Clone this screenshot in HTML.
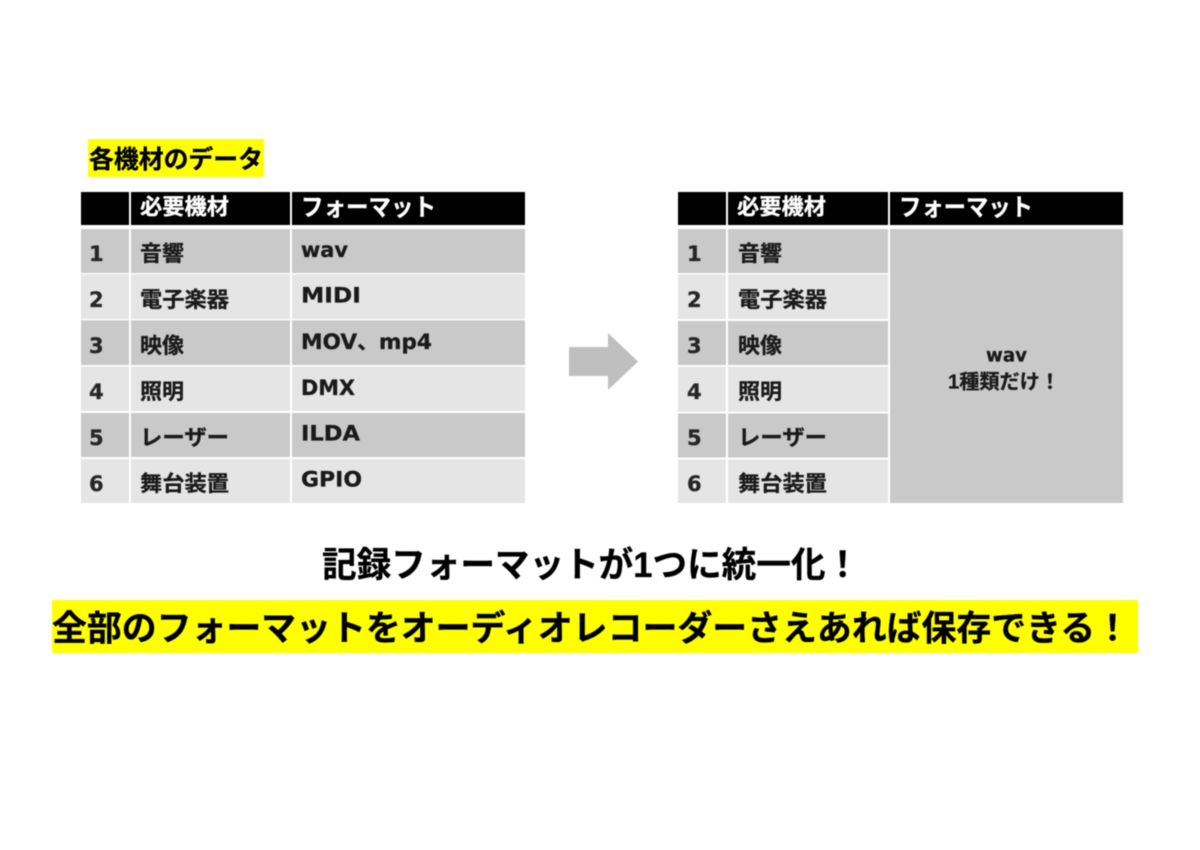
<!DOCTYPE html>
<html lang="ja"><head><meta charset="utf-8"><style>
html,body{margin:0;padding:0;background:#fff;width:1200px;height:850px;overflow:hidden}
svg{display:block;filter:blur(0.4px)}
text{font-family:"Liberation Sans","Noto Sans CJK JP",sans-serif;font-weight:700;fill:#1a1a1a;stroke:#1a1a1a;stroke-width:.3px}
.h{fill:#fff;stroke:#fff;font-size:22px}
.k{fill:#fff;stroke:#fff;font-size:24px}
.c{font-size:21.5px}
.n{font-size:21px;font-family:"DejaVu Sans",sans-serif;fill:#262626;stroke:#262626}
.f{font-size:21px;font-family:"DejaVu Sans","Noto Sans CJK JP",sans-serif}
.b{fill:#000;stroke:#000}
</style></head><body>
<svg width="1200" height="850" viewBox="0 0 1200 850" xmlns="http://www.w3.org/2000/svg">
<rect width="1200" height="850" fill="#fff"/>
<rect x="88" y="139" width="176" height="38" fill="#ffff00"/>
<text x="89" y="168" font-size="25" class="b" textLength="174" lengthAdjust="spacingAndGlyphs">各機材のデータ</text>

<!-- Left table -->
<g>
<rect x="81" y="192" width="48" height="33" fill="#000"/><rect x="131" y="192" width="159" height="33" fill="#000"/><rect x="292" y="192" width="233" height="33" fill="#000"/>
<rect x="81" y="229" width="48" height="44" fill="#c9c9c9"/><rect x="131" y="229" width="159" height="44" fill="#c9c9c9"/><rect x="292" y="229" width="233" height="44" fill="#c9c9c9"/>
<rect x="81" y="274.3" width="48" height="44.7" fill="#e5e5e5"/><rect x="131" y="274.3" width="159" height="44.7" fill="#e5e5e5"/><rect x="292" y="274.3" width="233" height="44.7" fill="#e5e5e5"/>
<rect x="81" y="320.3" width="48" height="44.7" fill="#c9c9c9"/><rect x="131" y="320.3" width="159" height="44.7" fill="#c9c9c9"/><rect x="292" y="320.3" width="233" height="44.7" fill="#c9c9c9"/>
<rect x="81" y="366.6" width="48" height="44.4" fill="#e5e5e5"/><rect x="131" y="366.6" width="159" height="44.4" fill="#e5e5e5"/><rect x="292" y="366.6" width="233" height="44.4" fill="#e5e5e5"/>
<rect x="81" y="413" width="48" height="44" fill="#c9c9c9"/><rect x="131" y="413" width="159" height="44" fill="#c9c9c9"/><rect x="292" y="413" width="233" height="44" fill="#c9c9c9"/>
<rect x="81" y="459" width="48" height="44" fill="#e5e5e5"/><rect x="131" y="459" width="159" height="44" fill="#e5e5e5"/><rect x="292" y="459" width="233" height="44" fill="#e5e5e5"/>
<text x="140" y="214.5" class="h" textLength="89" lengthAdjust="spacingAndGlyphs">必要機材</text>
<text x="301" y="215.5" class="k" textLength="135" lengthAdjust="spacingAndGlyphs">フォーマット</text>
<text x="89" y="261" class="n">1</text><text x="89" y="307" class="n">2</text><text x="89" y="353" class="n">3</text><text x="89" y="399" class="n">4</text><text x="89" y="445" class="n">5</text><text x="89" y="491" class="n">6</text>
<text x="140" y="261" class="c" textLength="44" lengthAdjust="spacingAndGlyphs">音響</text>
<text x="140" y="307" class="c" textLength="89" lengthAdjust="spacingAndGlyphs">電子楽器</text>
<text x="140" y="353" class="c" textLength="44" lengthAdjust="spacingAndGlyphs">映像</text>
<text x="140" y="399" class="c" textLength="44" lengthAdjust="spacingAndGlyphs">照明</text>
<text x="140" y="445" class="c" textLength="89" lengthAdjust="spacingAndGlyphs">レーザー</text>
<text x="140" y="491" class="c" textLength="89" lengthAdjust="spacingAndGlyphs">舞台装置</text>
<text x="301" y="257" class="f" textLength="47" lengthAdjust="spacingAndGlyphs">wav</text>
<text x="301" y="302.5" class="f" textLength="60" lengthAdjust="spacingAndGlyphs">MIDI</text>
<text x="301" y="349" class="f" textLength="131" lengthAdjust="spacingAndGlyphs">MOV、mp4</text>
<text x="301" y="395" class="f" textLength="54" lengthAdjust="spacingAndGlyphs">DMX</text>
<text x="301" y="440.7" class="f" textLength="59" lengthAdjust="spacingAndGlyphs">ILDA</text>
<text x="301" y="486.7" class="f" textLength="61" lengthAdjust="spacingAndGlyphs">GPIO</text>
</g>

<!-- Arrow -->
<polygon points="569,347 608,347 608,333 638,361.5 608,390 608,376 569,376" fill="#bfbfbf"/>

<!-- Right table -->
<g>
<rect x="678" y="192" width="48" height="33" fill="#000"/><rect x="728" y="192" width="160" height="33" fill="#000"/><rect x="890" y="192" width="233" height="33" fill="#000"/>
<rect x="678" y="229" width="48" height="44" fill="#c9c9c9"/><rect x="728" y="229" width="160" height="44" fill="#c9c9c9"/>
<rect x="678" y="274.5" width="48" height="44.5" fill="#e5e5e5"/><rect x="728" y="274.5" width="160" height="44.5" fill="#e5e5e5"/>
<rect x="678" y="321" width="48" height="44" fill="#c9c9c9"/><rect x="728" y="321" width="160" height="44" fill="#c9c9c9"/>
<rect x="678" y="366.7" width="48" height="45" fill="#e5e5e5"/><rect x="728" y="366.7" width="160" height="45" fill="#e5e5e5"/>
<rect x="678" y="413.5" width="48" height="44" fill="#c9c9c9"/><rect x="728" y="413.5" width="160" height="44" fill="#c9c9c9"/>
<rect x="678" y="459.5" width="48" height="43.5" fill="#e5e5e5"/><rect x="728" y="459.5" width="160" height="43.5" fill="#e5e5e5"/>
<rect x="890" y="229" width="233" height="274" fill="#c9c9c9"/>
<text x="737" y="214.5" class="h" textLength="89" lengthAdjust="spacingAndGlyphs">必要機材</text>
<text x="899" y="215.5" class="k" textLength="134" lengthAdjust="spacingAndGlyphs">フォーマット</text>
<text x="687" y="261" class="n">1</text><text x="687" y="307" class="n">2</text><text x="687" y="353" class="n">3</text><text x="687" y="399" class="n">4</text><text x="687" y="445" class="n">5</text><text x="687" y="491" class="n">6</text>
<text x="738" y="261" class="c" textLength="44" lengthAdjust="spacingAndGlyphs">音響</text>
<text x="738" y="307" class="c" textLength="89" lengthAdjust="spacingAndGlyphs">電子楽器</text>
<text x="738" y="353" class="c" textLength="44" lengthAdjust="spacingAndGlyphs">映像</text>
<text x="738" y="399" class="c" textLength="44" lengthAdjust="spacingAndGlyphs">照明</text>
<text x="738" y="445" class="c" textLength="89" lengthAdjust="spacingAndGlyphs">レーザー</text>
<text x="738" y="491" class="c" textLength="89" lengthAdjust="spacingAndGlyphs">舞台装置</text>
<text x="986" y="361.7" font-size="19" style="font-family:'DejaVu Sans',sans-serif" textLength="41" lengthAdjust="spacingAndGlyphs">wav</text>
<text x="948" y="388.5" font-size="20" textLength="112" lengthAdjust="spacingAndGlyphs">1種類だけ！</text>
</g>

<!-- Bottom -->
<text x="322" y="577" font-size="35" class="b" textLength="538" lengthAdjust="spacingAndGlyphs">記録フォーマットが1つに統一化！</text>
<rect x="52" y="600" width="1086" height="53" fill="#ffff00"/>
<text x="52" y="640.5" font-size="35" class="b" textLength="1078" lengthAdjust="spacingAndGlyphs">全部のフォーマットをオーディオレコーダーさえあれば保存できる！</text>
</svg>
</body></html>
